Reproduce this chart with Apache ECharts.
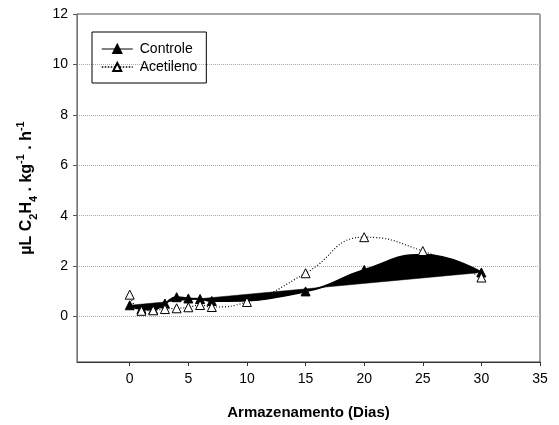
<!DOCTYPE html>
<html>
<head>
<meta charset="utf-8">
<script src="https://cdn.jsdelivr.net/npm/echarts@6/dist/echarts.min.js"></script>
<style>
  html, body { margin: 0; padding: 0; background: #fff; }
  #chart { width: 559px; height: 425px; }
</style>
</head>
<body>
<div id="chart"></div>
<script>
// Ethylene production over storage time
const controleDays = [0, 1, 2, 3, 4, 5, 6, 7, 15, 20, 25, 30];
const controle = [0.45, 0.3, 0.28, 0.52, 0.77, 0.72, 0.7, 0.62, 1.0, 1.85, 2.45, 1.75];
const acetilenoDays = [0, 1, 2, 3, 4, 5, 6, 7, 10, 15, 20, 25, 30];
const acetileno = [0.87, 0.23, 0.25, 0.3, 0.33, 0.37, 0.46, 0.38, 0.58, 1.72, 3.15, 2.6, 1.55];
const xTicks = [0, 5, 10, 15, 20, 25, 30, 35];
const yTicks = [0, 2, 4, 6, 8, 10, 12];

const SMOOTH = 0.5;
const FONT = 'Liberation Sans, Arial, sans-serif';

const pairs = (xs, ys) => xs.map((x, i) => [x, ys[i]]);

// Same neighbour-based bezier smoothing the line series uses, returned as
// a list of cubic segments in pixel space.
function smoothSegments(pts, smooth) {
  const segs = [];
  let cp0 = pts[0];
  for (let i = 1; i < pts.length; i++) {
    const [x, y] = pts[i];
    const [px, py] = pts[i - 1];
    let cp1, nextCp0;
    if (i === pts.length - 1) {
      cp1 = [x, y];
    } else {
      const [nx, ny] = pts[i + 1];
      let vx = nx - px, vy = ny - py;
      const lenPrev = Math.hypot(x - px, y - py);
      const lenNext = Math.hypot(nx - x, ny - y);
      const ratio = lenNext / (lenNext + lenPrev);
      let ncx = x + vx * smooth * ratio;
      let ncy = y + vy * smooth * ratio;
      ncx = Math.max(Math.min(ncx, Math.max(nx, x)), Math.min(nx, x));
      ncy = Math.max(Math.min(ncy, Math.max(ny, y)), Math.min(ny, y));
      vx = ncx - x; vy = ncy - y;
      let c1x = x - vx * lenPrev / lenNext;
      let c1y = y - vy * lenPrev / lenNext;
      c1x = Math.max(Math.min(c1x, Math.max(px, x)), Math.min(px, x));
      c1y = Math.max(Math.min(c1y, Math.max(py, y)), Math.min(py, y));
      vx = x - c1x; vy = y - c1y;
      cp1 = [c1x, c1y];
      nextCp0 = [x + vx * lenNext / lenPrev, y + vy * lenNext / lenPrev];
    }
    segs.push([pts[i - 1], cp0, cp1, pts[i]]);
    cp0 = nextCp0;
  }
  return segs;
}

// Closed outline: smoothed curve, then straight back to its start.
function renderControleFill(params, api) {
  const pts = pairs(controleDays, controle).map(p => api.coord(p));
  const outline = [pts[0]];
  smoothSegments(pts, SMOOTH).forEach(([p0, c0, c1, p1]) => {
    const steps = 24;
    for (let s = 1; s <= steps; s++) {
      const t = s / steps, u = 1 - t;
      outline.push([
        u * u * u * p0[0] + 3 * u * u * t * c0[0] + 3 * u * t * t * c1[0] + t * t * t * p1[0],
        u * u * u * p0[1] + 3 * u * u * t * c0[1] + 3 * u * t * t * c1[1] + t * t * t * p1[1]
      ]);
    }
  });
  return {
    type: 'polygon',
    shape: { points: outline },
    style: { fill: '#000', stroke: '#000', lineWidth: 0.5 }
  };
}

const chart = echarts.init(document.getElementById('chart'), null, { renderer: 'canvas' });

chart.setOption({
  animation: false,
  backgroundColor: '#fff',
  textStyle: { fontFamily: FONT },
  grid: {
    left: 77, right: 19, top: 14, bottom: 61,
    show: true, borderColor: '#444', borderWidth: 1, backgroundColor: 'transparent'
  },
  legend: {
    orient: 'vertical',
    left: 92, top: 32,
    data: [
      { name: 'Controle', lineStyle: { color: '#000', width: 1 } },
      { name: 'Acetileno', lineStyle: { color: '#000', width: 1.5, type: [1.5, 1.5] } }
    ],
    padding: [10, 9, 9, 9],
    itemGap: 4,
    itemWidth: 31,
    itemHeight: 10,
    borderColor: '#000',
    borderWidth: 1,
    textStyle: { fontSize: 14, color: '#000', fontFamily: FONT, padding: [0, 0, 0, 2] }
  },
  xAxis: {
    type: 'value',
    min: -4.5, max: 35,
    name: 'Armazenamento (Dias)',
    nameLocation: 'middle',
    nameGap: 43,
    nameTextStyle: { fontSize: 15, fontWeight: 'bold', color: '#000', fontFamily: FONT },
    axisLine: { onZero: false, lineStyle: { color: '#333', width: 1 } },
    axisTick: { show: true, length: 4, customValues: xTicks, lineStyle: { color: '#333' } },
    axisLabel: { customValues: xTicks, fontSize: 14, color: '#000', margin: 10, fontFamily: FONT },
    splitLine: { show: false }
  },
  yAxis: {
    type: 'value',
    min: -1.8, max: 12,
    name: '{b|µL C}{s|2}{b|H}{s|4}{b| . kg}{p|-1}{b| . h}{p|-1}',
    nameLocation: 'middle',
    nameGap: 38,
    nameTextStyle: {
      color: '#000',
      rich: {
        b: { fontSize: 16, fontWeight: 'bold', lineHeight: 24, verticalAlign: 'middle', fontFamily: FONT, color: '#000' },
        s: { fontSize: 11, fontWeight: 'bold', lineHeight: 11, verticalAlign: 'bottom', fontFamily: FONT, color: '#000' },
        p: { fontSize: 11, fontWeight: 'bold', lineHeight: 11, verticalAlign: 'top', fontFamily: FONT, color: '#000' }
      }
    },
    axisLine: { show: true, onZero: false, lineStyle: { color: '#777', width: 1 } },
    axisTick: { show: true, length: 4, customValues: yTicks, lineStyle: { color: '#555' } },
    axisLabel: { customValues: yTicks, fontSize: 14, color: '#000', margin: 9, fontFamily: FONT },
    splitLine: { show: true, lineStyle: { color: '#aaa', type: [1, 1], width: 1 } }
  },
  series: [
    {
      name: 'ControleFill',
      type: 'custom',
      z: 1,
      silent: true,
      data: [[controleDays[0], controle[0]]],
      renderItem: renderControleFill
    },
    {
      name: 'Controle',
      type: 'line',
      z: 2,
      smooth: SMOOTH,
      data: pairs(controleDays, controle),
      symbol: 'triangle',
      symbolSize: 9,
      showAllSymbol: true,
      color: '#000',
      lineStyle: { color: '#000', width: 2 },
      itemStyle: { color: '#000', borderColor: '#000', borderWidth: 1 }
    },
    {
      name: 'Acetileno',
      type: 'line',
      z: 3,
      smooth: SMOOTH,
      data: pairs(acetilenoDays, acetileno),
      symbol: 'triangle',
      symbolSize: 9,
      showAllSymbol: true,
      color: '#000',
      lineStyle: { color: '#000', width: 1.2, type: [1, 2] },
      itemStyle: { color: '#fff', borderColor: '#000', borderWidth: 1 }
    }
  ]
});
</script>
</body>
</html>
